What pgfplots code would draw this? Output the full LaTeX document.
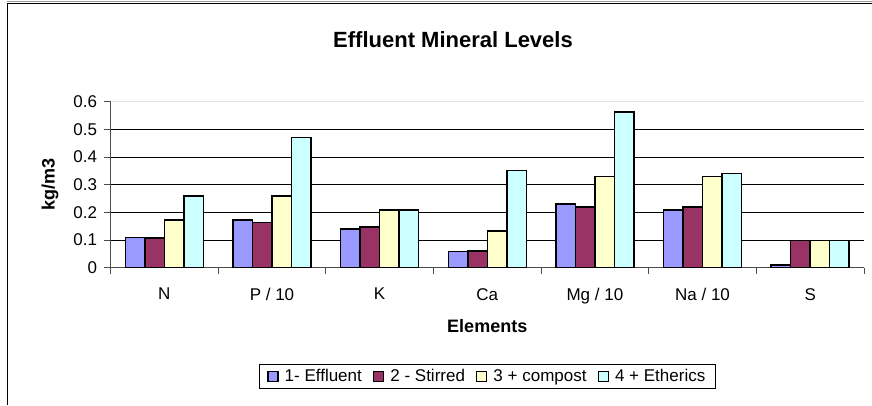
\documentclass[border=0pt]{standalone}
\usepackage{fontspec}
\setmainfont{Liberation Sans}
\usepackage{pgfplots}
\pgfplotsset{compat=1.18}
\definecolor{c1}{HTML}{9999FF}
\definecolor{c2}{HTML}{993366}
\definecolor{c3}{HTML}{FFFFCC}
\definecolor{c4}{HTML}{CCFFFF}
\begin{document}
\begin{tikzpicture}[x=1pt,y=1pt]
\path[use as bounding box] (0,0) rectangle (872,405);
\draw[black!40, line width=1pt] (7,403.5) -- (872,403.5);
\draw[black, line width=1.5pt] (7,401.5) -- (872,401.5);
\draw[black, line width=1.5pt] (7.7,401.5) -- (7.7,0);
\node[anchor=base, font=\fontsize{22}{26}\selectfont\bfseries, inner sep=0pt] at (453,357) {Effluent Mineral Levels};
\begin{axis}[
  at={(110.5pt,137.3pt)}, anchor=south west,
  width=753.5pt, height=166pt, scale only axis,
  ybar=0pt, bar width=19.5pt,
  xmin=0, xmax=7, ymin=0, ymax=0.6,
  axis x line*=bottom, axis y line*=left,
  axis line style={black!70, line width=1pt},
  tick style={black!70, line width=1pt},
  major tick length=6pt, tick align=outside,
  xtick={0,1,2,3,4,5,6,7},
  x tick label as interval,
  xticklabels={N, P / 10, K, Ca, Mg / 10, Na / 10, S},
  ytick={0,0.1,0.2,0.3,0.4,0.5},
  extra y ticks={0.6},
  extra y tick style={grid style={black!12, line width=1pt}},
  ymajorgrids=true,
  grid style={black, line width=0.8pt},
  /pgf/number format/.cd, fixed, precision=1, assume math mode=true,
  /pgfplots/.cd,
  ticklabel style={font=\fontsize{17}{20}\selectfont},
  xticklabel style={yshift=-11pt},
  yticklabel style={xshift=-4pt},
  xlabel={Elements},
  ylabel={kg/m3},
  label style={font=\fontsize{18}{21}\selectfont\bfseries},
  xlabel style={at={(axis description cs:0.5,-0.393)}, anchor=base},
  ylabel style={at={(axis description cs:-0.0803,0.5)}, anchor=center},
  legend columns=4,
  legend style={at={(0.5,-0.655)}, anchor=center, draw=black, line width=0.8pt,
    font=\fontsize{17}{20}\selectfont, inner xsep=8pt, inner ysep=3pt,
    /tikz/every odd column/.append style={column sep=4pt},
    /tikz/every even column/.append style={column sep=9pt}},
  legend image code/.code={\draw[#1, draw=black, line width=1.5pt] (0pt,-5pt) rectangle (10pt,5pt);},
]
\addplot[fill=c1, draw=black, line width=1.5pt] coordinates {(0.5,0.11) (1.5,0.172) (2.5,0.14) (3.5,0.058) (4.5,0.23) (5.5,0.208) (6.5,0.01)};
\addplot[fill=c2, draw=black, line width=1.5pt] coordinates {(0.5,0.107) (1.5,0.164) (2.5,0.148) (3.5,0.061) (4.5,0.219) (5.5,0.219) (6.5,0.098)};
\addplot[fill=c3, draw=black, line width=1.5pt] coordinates {(0.5,0.172) (1.5,0.26) (2.5,0.208) (3.5,0.133) (4.5,0.329) (5.5,0.329) (6.5,0.098)};
\addplot[fill=c4, draw=black, line width=1.5pt] coordinates {(0.5,0.26) (1.5,0.471) (2.5,0.208) (3.5,0.352) (4.5,0.562) (5.5,0.34) (6.5,0.098)};
\legend{1- Effluent, 2 - Stirred, 3 + compost, 4 + Etherics}
\end{axis}
\end{tikzpicture}
\end{document}
